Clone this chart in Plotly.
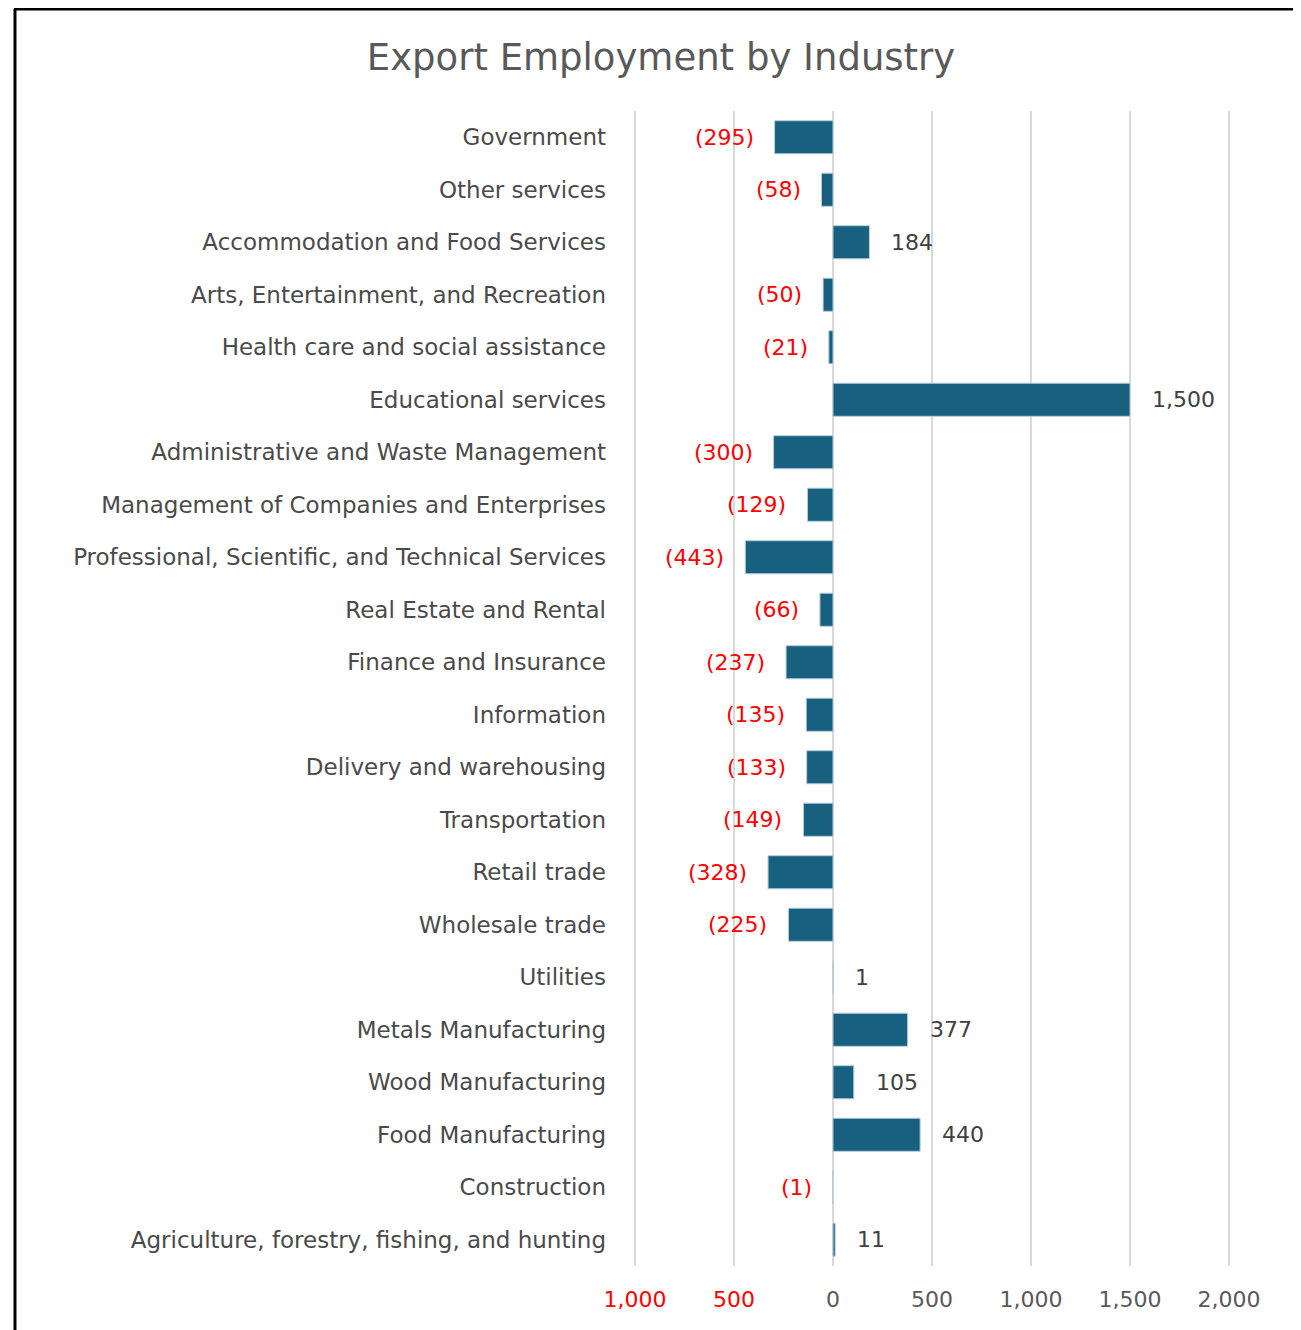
import plotly.graph_objects as go

categories = [
    "Government", "Other services", "Accommodation and Food Services",
    "Arts, Entertainment, and Recreation", "Health care and social assistance",
    "Educational services", "Administrative and Waste Management",
    "Management of Companies and Enterprises",
    "Professional, Scientific, and Technical Services", "Real Estate and Rental",
    "Finance and Insurance", "Information", "Delivery and warehousing",
    "Transportation", "Retail trade", "Wholesale trade", "Utilities",
    "Metals Manufacturing", "Wood Manufacturing", "Food Manufacturing",
    "Construction", "Agriculture, forestry, fishing, and hunting",
]
values = [-295, -58, 184, -50, -21, 1500, -300, -129, -443, -66, -237, -135,
          -133, -149, -328, -225, 1, 377, 105, 440, -1, 11]
tick_vals = [-1000, -500, 0, 500, 1000, 1500, 2000]
tick_text = ['<span style="color:#ff0000">1,000</span>', '<span style="color:#ff0000">500</span>',
             "0", "500", "1,000", "1,500", "2,000"]

OFF = 8  # page body margin
W, H = 1301 - OFF, 1330 - OFF
# target screen pixels
PL, PR, PT, PB = 633, 1231, 111, 1266
ML = PL - OFF
MR = W - (PR - OFF)
MT = PT - OFF
MB = H - (PB - OFF)
FONT = "DejaVu Sans"

def fmt(v):
    return f"({abs(v):,})" if v < 0 else f"{v:,}"

fig = go.Figure()
fig.add_trace(go.Bar(
    x=values, y=categories, orientation="h", width=0.63,
    marker=dict(color="#17607f", line=dict(color="#b8cdd8", width=1)),
    hoverinfo="x+y",
))

for c, v in zip(categories, values):
    neg = v < 0
    fig.add_annotation(
        x=v, y=c, text=fmt(v), showarrow=False,
        xanchor="right" if neg else "left",
        xshift=-19 if neg else 20,
        font=dict(family=FONT, size=22, color="#ff0000" if neg else "#404040"),
    )

pw = W - ML - MR
ph = H - MT - MB
def px_x(px):
    return (px - OFF - ML) / pw
def px_y(py):
    return 1 - (py - OFF - MT) / ph

border = dict(color="black", width=3)
fig.add_shape(type="line", xref="paper", yref="paper", x0=px_x(15), x1=px_x(15),
              y0=px_y(9), y1=px_y(1340), line=border)
fig.add_shape(type="line", xref="paper", yref="paper", x0=px_x(14), x1=px_x(1300),
              y0=px_y(9), y1=px_y(9), line=border)
fig.add_shape(type="line", xref="paper", yref="paper", x0=px_x(1299), x1=px_x(1299),
              y0=px_y(9), y1=px_y(1340), line=dict(color="#8c8c8c", width=1))

fig.update_layout(
    width=W, height=H,
    margin=dict(l=ML, r=MR, t=MT, b=MB),
    paper_bgcolor="white", plot_bgcolor="white",
    showlegend=False,
    title=dict(text="Export Employment by Industry", x=(661 - OFF) / W, xanchor="center",
               y=1 - (57 - OFF) / H, yanchor="middle",
               font=dict(family=FONT, size=37, color="#595959")),
    font=dict(family=FONT),
)
fig.update_xaxes(
    range=[-1010, 2010], tickvals=tick_vals, ticktext=tick_text,
    showgrid=True, gridcolor="#d9d9d9", gridwidth=2,
    zeroline=True, zerolinecolor="#d9d9d9", zerolinewidth=2,
    showline=False, ticks="", ticklabelstandoff=18,
    tickfont=dict(family=FONT, size=22, color="#595959"),
)
fig.update_yaxes(
    autorange="reversed", showgrid=False, zeroline=False, showline=False,
    ticks="", ticklabelstandoff=26,
    tickfont=dict(family=FONT, size=23, color="#4a4a4a"),
)

fig.write_html("out.html")
